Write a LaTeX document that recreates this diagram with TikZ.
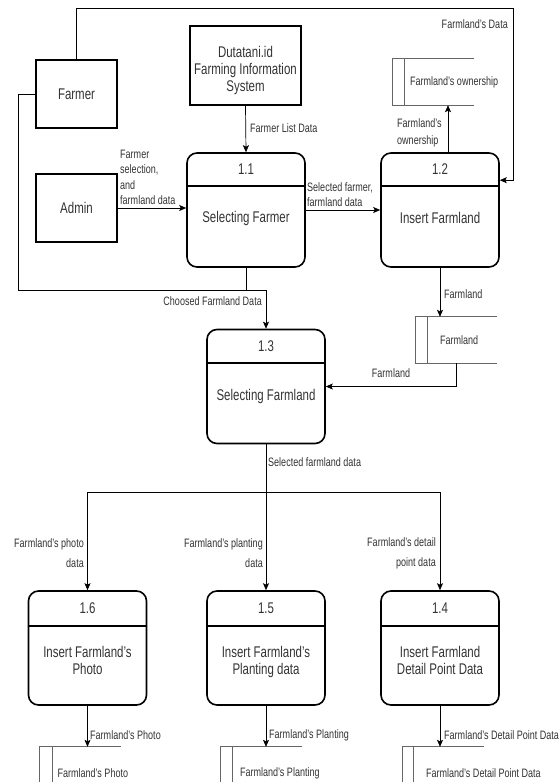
\documentclass[tikz,border=0pt]{standalone}
\usepackage{fontspec}
\setmainfont{Liberation Sans}[FakeStretch=0.74]
\usetikzlibrary{arrows.meta,calc,positioning}

\tikzset{
	proc/.style={draw,line width=1.6pt,rounded corners=10pt,minimum width=118pt,minimum height=114pt,inner sep=0pt},
	ext/.style={draw,line width=1.4pt,inner sep=0pt},
	storebox/.style={inner sep=0pt,minimum width=81pt,minimum height=46pt},
	storeline/.style={draw=black!60,line width=0.9pt},
	flow/.style={-{Stealth[length=7pt,width=6pt,inset=1.5pt]},line width=0.7pt},
	lbl/.style={font=\fontsize{12.2}{15.5}\selectfont,text=black!80,inner sep=0pt},
	big/.style={font=\fontsize{15.5}{17}\selectfont,text=black!80,inner sep=0pt},
}

\begin{document}
\begin{tikzpicture}[x=1pt,y=-1pt]
	
	\useasboundingbox (0,0) rectangle (558,782);
	
	% external entities
	\node [ext,big,minimum width=81pt,minimum height=68pt] (farmer) at (76.5,94) {Farmer};
	\node [ext,big,minimum width=81pt,minimum height=68pt] (admin) at (76.5,208) {Admin};
	\node [ext,minimum width=111pt,minimum height=79pt] (sys) at (245.5,65.5) {};
	\node [big,align=center] (syst) at (245.5,70) {Dutatani.id\\Farming Information\\System};
	
	% processes
	\node [proc] (p11) at (246,210) {};
	\draw [line width=1.6pt] ($(p11.north west)+(0,34)$) -- ($(p11.north east)+(0,34)$);
	\node [big] (p11n) at ($(p11.north)+(0,17)$) {1.1};
	\node [big,anchor=north,align=center] (p11t) at ($(p11.north)+(0,59)$) {Selecting Farmer};
	
	\node [proc] (p12) at (440,210) {};
	\draw [line width=1.6pt] ($(p12.north west)+(0,34)$) -- ($(p12.north east)+(0,34)$);
	\node [big] (p12n) at ($(p12.north)+(0,17)$) {1.2};
	\node [big,anchor=north,align=center] (p12t) at ($(p12.north)+(0,60)$) {Insert Farmland};
	
	\node [proc] (p13) at (266,386.5) {};
	\draw [line width=1.6pt] ($(p13.north west)+(0,34)$) -- ($(p13.north east)+(0,34)$);
	\node [big] (p13n) at ($(p13.north)+(0,17)$) {1.3};
	\node [big,anchor=north,align=center] (p13t) at ($(p13.north)+(0,60)$) {Selecting Farmland};
	
	\node [proc] (p16) at (87.5,648) {};
	\draw [line width=1.6pt] ($(p16.north west)+(0,36)$) -- ($(p16.north east)+(0,36)$);
	\node [big] (p16n) at ($(p16.north)+(0,18)$) {1.6};
	\node [big,anchor=north,align=center] (p16t) at ($(p16.north)+(0,56)$) {Insert Farmland's\\Photo};
	
	\node [proc] (p15) at (266,648) {};
	\draw [line width=1.6pt] ($(p15.north west)+(0,36)$) -- ($(p15.north east)+(0,36)$);
	\node [big] (p15n) at ($(p15.north)+(0,18)$) {1.5};
	\node [big,anchor=north,align=center] (p15t) at ($(p15.north)+(0,56)$) {Insert Farmland's\\Planting data};
	
	\node [proc] (p14) at (440,648) {};
	\draw [line width=1.6pt] ($(p14.north west)+(0,36)$) -- ($(p14.north east)+(0,36)$);
	\node [big] (p14n) at ($(p14.north)+(0,18)$) {1.4};
	\node [big,anchor=north,align=center] (p14t) at ($(p14.north)+(0,56)$) {Insert Farmland\\Detail Point Data};
	
	% data stores
	\node [storebox] (sown) at (433.5,82) {};
	\draw [storeline] (sown.north east) -- (sown.north west) -- (sown.south west) -- (sown.south east);
	\draw [storeline] ($(sown.north west)+(12,0)$) -- ($(sown.south west)+(12,0)$);
	\node [lbl,anchor=west] (sownt) at ($(sown.west)+(17,0)$) {Farmland's ownership};
	
	\node [storebox] (sfl) at (456.5,340) {};
	\draw [storeline] (sfl.north east) -- (sfl.north west) -- (sfl.south west) -- (sfl.south east);
	\draw [storeline] ($(sfl.north west)+(12,0)$) -- ($(sfl.south west)+(12,0)$);
	\node [lbl,anchor=west] (sflt) at ($(sfl.west)+(24,0)$) {Farmland};
	
	\node [storebox] (sph) at (80,770) {};
	\draw [storeline] (sph.north east) -- (sph.north west) -- (sph.south west) -- (sph.south east);
	\draw [storeline] ($(sph.north west)+(13,0)$) -- ($(sph.south west)+(13,0)$);
	\node [lbl,anchor=west] (spht) at ($(sph.west)+(18,3)$) {Farmland's Photo};
	
	\node [storebox] (spl) at (261.5,770) {};
	\draw [storeline] (spl.north east) -- (spl.north west) -- (spl.south west) -- (spl.south east);
	\draw [storeline] ($(spl.north west)+(12,0)$) -- ($(spl.south west)+(12,0)$);
	\node [lbl,anchor=west] (splt) at ($(spl.west)+(19,3)$) {Farmland's Planting};
	
	\node [storebox] (sdp) at (443.5,770) {};
	\draw [storeline] (sdp.north east) -- (sdp.north west) -- (sdp.south west) -- (sdp.south east);
	\draw [storeline] ($(sdp.north west)+(11,0)$) -- ($(sdp.south west)+(11,0)$);
	\node [lbl,anchor=west] (sdpt) at ($(sdp.west)+(23,3)$) {Farmland's Detail Point Data};
	
	% flows
	\coordinate (ctop) at (513,8);
	\coordinate (cin) at ($(p12.north east)+(0,28)$);
	\draw [flow] (farmer.north) |- (ctop) |- (cin);
	\node [lbl,anchor=east] (l1) at (508,24) {Farmland's Data};
	
	\coordinate (cleft) at (18,290);
	\draw [flow] (farmer.west) -| (cleft) -| (p13.north);
	\draw [line width=0.7pt] (p11.south) -- (p11.south |- cleft);
	\node [lbl,anchor=east] (l2) at (262,301) {Choosed Farmland Data};
	
	\draw [flow] (sys.south) -- (p11.north);
	\node [lbl,anchor=west] (l3) at (250,128) {Farmer List Data};
	
	\draw [flow] (admin.east) -- (admin.east -| p11.west);
	\node [lbl,anchor=south west,align=left] (l4) at (120,205) {Farmer\\selection,\\and\\farmland data};
	
	\draw [flow] (p11.east) -- (p12.west);
	\node [lbl,anchor=south west,align=left] (l5) at (307,207) {Selected farmer,\\farmland data};
	
	\coordinate (cown) at (448,153);
	\draw [flow] (cown) -- (cown |- sown.south);
	\node [lbl,anchor=south west,align=left,font=\fontsize{12.2}{17}\selectfont] (l6) at (397,147) {Farmland's\\ownership};
	
	\draw [flow] (p12.south) -- (p12.south |- sfl.north);
	\node [lbl,anchor=west] (l7) at (444,294) {Farmland};
	
	\draw [flow] (sfl.south) |- (p13.east);
	\node [lbl] (l8) at (391,373) {Farmland};
	
	\coordinate (cbr) at (266,492);
	\draw [line width=0.7pt] (p13.south) -- (cbr);
	\draw [flow] (cbr) -| (p16.north);
	\draw [flow] (cbr) -| (p14.north);
	\draw [flow] (cbr) -- (p15.north);
	\node [lbl,anchor=west] (l9) at (268,462) {Selected farmland data};
	
	\node [lbl,anchor=east,align=right,font=\fontsize{12.2}{20}\selectfont] (l10) at (84,553) {Farmland's photo\\data};
	\node [lbl,anchor=east,align=right,font=\fontsize{12.2}{20}\selectfont] (l11) at (263,553) {Farmland's planting\\data};
	\node [lbl,anchor=east,align=right,font=\fontsize{12.2}{20}\selectfont] (l12) at (436,553) {Farmland's detail\\point data};
	
	\draw [flow] (p16.south) -- (p16.south |- sph.north);
	\node [lbl,anchor=west] (l13) at (90,735) {Farmland's Photo};
	\draw [flow] (p15.south) -- (p15.south |- spl.north);
	\node [lbl,anchor=west] (l14) at (269,735) {Farmland's Planting};
	\draw [flow] (p14.south) -- (p14.south |- sdp.north);
	\node [lbl,anchor=west] (l15) at (444,735) {Farmland's Detail Point Data};
	
\end{tikzpicture}
\end{document}
